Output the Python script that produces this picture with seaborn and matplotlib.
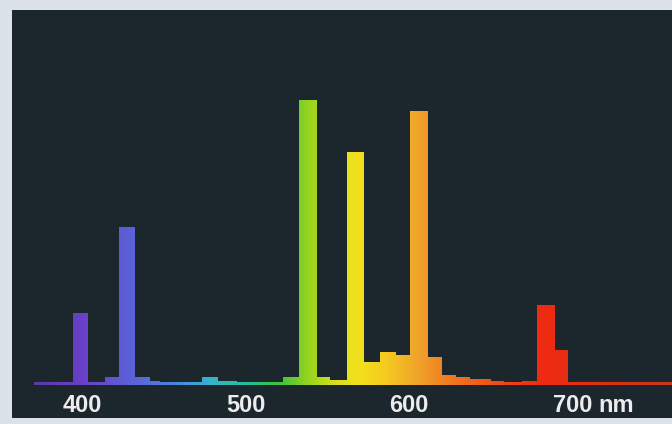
import numpy as np
import pandas as pd
import matplotlib
matplotlib.use("Agg")
import matplotlib.pyplot as plt
from matplotlib.colors import LinearSegmentedColormap, Normalize
import seaborn as sns

# Spectrum: contiguous wavelength bins (nm) and relative heights
bin_edges = [370, 394, 403, 414, 422.5, 432, 441, 447.5, 473, 482.5, 494.5, 523,
             532.5, 543, 551.5, 562, 572, 582, 591.5, 600.5, 611, 620, 628, 637,
             649.5, 657.5, 669, 678.5, 689.5, 697, 761]
intensity = [3, 72, 3, 8, 158, 8, 4, 3, 8, 4,
             3, 8, 285, 8, 5, 233, 23, 33, 30, 274,
             28, 10, 8, 6, 4, 3, 4, 80, 35, 2.5]
tick_values = [400, 500, 600, 700]
tick_labels = ["400", "500", "600", "700"]
unit_label = "nm"

centers = [(a + b) / 2 for a, b in zip(bin_edges[:-1], bin_edges[1:])]
df = pd.DataFrame({"wavelength": centers, "intensity": intensity})

# wavelength -> colour
anchors = [(370, "#5a3aa8"), (400, "#6a40c8"), (430, "#5c62d8"), (455, "#4c82e0"),
           (478, "#35b4cc"), (500, "#22bf9a"), (520, "#3cc43c"), (538, "#96d41e"),
           (555, "#d6e01e"), (568, "#f2e21c"), (585, "#f5cc20"), (605, "#f0a42a"),
           (625, "#f07a20"), (650, "#f05218"), (680, "#f02a10"), (761, "#c8381c")]
lo, hi = anchors[0][0], anchors[-1][0]
cmap = LinearSegmentedColormap.from_list(
    "spec", [((w - lo) / (hi - lo), c) for w, c in anchors])
norm = Normalize(lo, hi)

W, H = 672, 424
fig = plt.figure(figsize=(W / 100, H / 100), dpi=100, facecolor="#dce3e8")
ax = fig.add_axes([12 / W, (H - 418) / H, 1 - 12 / W, (418 - 10) / H])
ax.set_facecolor("#1b272d")

sns.histplot(data=df, x="wavelength", weights="intensity", bins=bin_edges,
             ax=ax, stat="count", element="bars", fill=True, linewidth=0,
             alpha=1)

for p in list(ax.patches):
    x0, y0 = p.get_x(), p.get_y()
    w, h = p.get_width(), p.get_height()
    grad = np.linspace(x0, x0 + w, 32)[None, :]
    ax.imshow(grad, extent=[x0, x0 + w, y0, y0 + h], aspect="auto",
              cmap=cmap, norm=norm, interpolation="bilinear", zorder=2)
    p.set_visible(False)

x_left = 400 + (12 - 82.5) / 1.633
x_right = 400 + (672 - 82.5) / 1.633
ax.set_xlim(x_left, x_right)
ax.set_ylim(-33, 375)
ax.set_aspect("auto")
ax.set_xticks([])
ax.set_yticks([])
ax.set_xlabel("")
ax.set_ylabel("")
for s in ax.spines.values():
    s.set_visible(False)

for v, lab in zip(tick_values, tick_labels):
    ax.text(v, -21, lab, ha="center", va="center", color="#ececec",
            fontsize=17, fontweight="bold", family="Liberation Sans")
ax.text(400 + (598 - 82.5) / 1.633, -21, unit_label, ha="left", va="center",
        color="#ececec", fontsize=17, fontweight="bold", family="Liberation Sans")

fig.savefig("out.png", dpi=100, facecolor=fig.get_facecolor())
